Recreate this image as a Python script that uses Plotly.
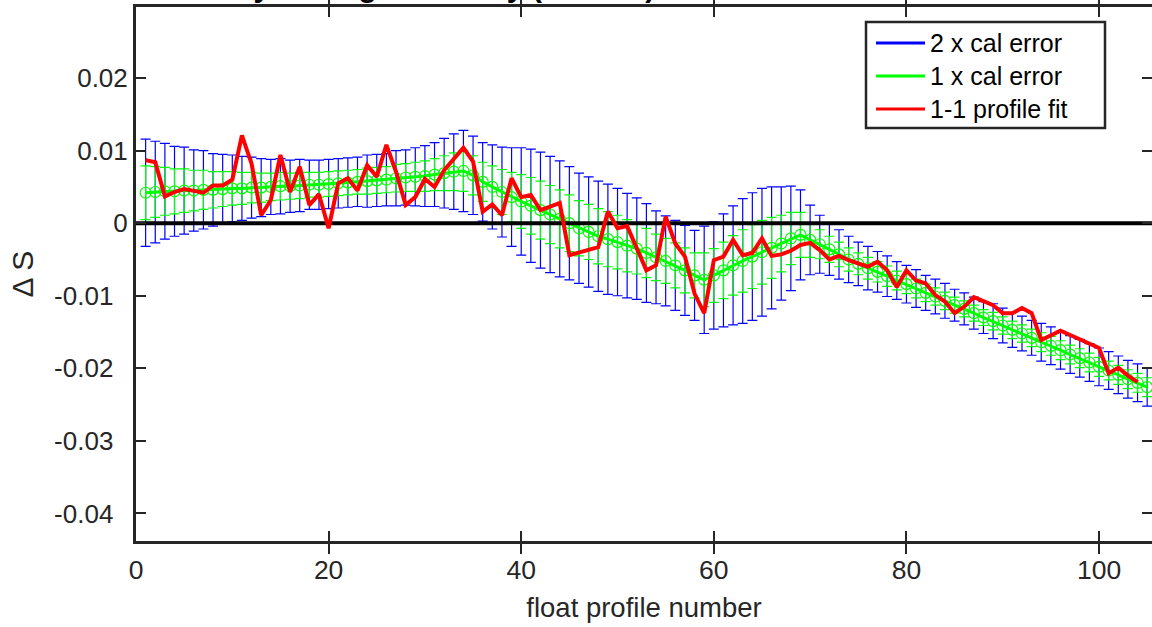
import plotly.graph_objects as go

# Float profile numbers
profile = list(range(1, 106))

# Vertically-averaged salinity offset (mapped fit) for each profile
offset = [
    0.0042, 0.0043, 0.0044, 0.0044, 0.0045, 0.0045, 0.0046, 0.0046, 0.0047, 0.0048,
    0.0048, 0.0049, 0.0049, 0.0050, 0.0051, 0.0051, 0.0052, 0.0053, 0.0053, 0.0054,
    0.0055, 0.0056, 0.0057, 0.0058, 0.0059, 0.0060, 0.0062, 0.0063, 0.0064, 0.0065,
    0.0067, 0.0069, 0.0071, 0.0072, 0.0066, 0.0057, 0.0050, 0.0043, 0.0036, 0.0030,
    0.0024, 0.0018, 0.0012, 0.0006, 0.0000, -0.0007, -0.0012, -0.0018, -0.0022, -0.0026,
    -0.0031, -0.0035, -0.0041, -0.0047, -0.0052, -0.0058, -0.0065, -0.0072, -0.0078, -0.0072,
    -0.0065, -0.0058, -0.0052, -0.0046, -0.0040, -0.0034, -0.0028, -0.0021, -0.0016, -0.0023,
    -0.0029, -0.0036, -0.0043, -0.0050, -0.0056, -0.0062, -0.0067, -0.0073, -0.0079, -0.0084,
    -0.0090, -0.0096, -0.0101, -0.0107, -0.0113, -0.0118, -0.0124, -0.0130, -0.0135, -0.0141,
    -0.0147, -0.0152, -0.0158, -0.0164, -0.0169, -0.0175, -0.0181, -0.0186, -0.0192, -0.0198,
    -0.0203, -0.0209, -0.0215, -0.0220, -0.0226,
]

# One-sigma calibration error of the offset
cal_err = [
    0.0037, 0.0035, 0.0033, 0.0031, 0.0030, 0.0028, 0.0027, 0.0025, 0.0024, 0.0023,
    0.0022, 0.0021, 0.0020, 0.0019, 0.0019, 0.0018, 0.0018, 0.0017, 0.0017, 0.0017,
    0.0017, 0.0017, 0.0017, 0.0018, 0.0018, 0.0018, 0.0019, 0.0019, 0.0020, 0.0021,
    0.0022, 0.0024, 0.0026, 0.0028, 0.0027, 0.0027, 0.0029, 0.0031, 0.0034, 0.0037,
    0.0039, 0.0040, 0.0040, 0.0040, 0.0039, 0.0038, 0.0038, 0.0038, 0.0038, 0.0037,
    0.0036, 0.0035, 0.0034, 0.0032, 0.0031, 0.0031, 0.0031, 0.0031, 0.0037, 0.0037,
    0.0039, 0.0041, 0.0043, 0.0044, 0.0044, 0.0042, 0.0039, 0.0036, 0.0031, 0.0024,
    0.0020, 0.0018, 0.0017, 0.0016, 0.0015, 0.0015, 0.0014, 0.0014, 0.0013, 0.0013,
    0.0013, 0.0012, 0.0012, 0.0012, 0.0011, 0.0011, 0.0011, 0.0011, 0.0012, 0.0012,
    0.0012, 0.0012, 0.0012, 0.0013, 0.0013, 0.0013, 0.0013, 0.0013, 0.0013, 0.0013,
    0.0013, 0.0013, 0.0013, 0.0013, 0.0013,
]

# Profile-by-profile (1-1) fit, profiles 1..104
fit_profile = list(range(1, 105))
fit_offset = [
    0.0087, 0.0084, 0.0037, 0.0043, 0.0047, 0.0045, 0.0042, 0.0052, 0.0052, 0.0060,
    0.0121, 0.0082, 0.0011, 0.0032, 0.0094, 0.0043, 0.0078, 0.0025, 0.0040, -0.0007,
    0.0055, 0.0062, 0.0045, 0.0080, 0.0064, 0.0108, 0.0071, 0.0025, 0.0036, 0.0061,
    0.0050, 0.0073, 0.0088, 0.0104, 0.0085, 0.0016, 0.0026, 0.0011, 0.0062, 0.0036,
    0.0039, 0.0018, 0.0023, 0.0028, -0.0044, -0.0040, -0.0037, -0.0033, 0.0016, -0.0007,
    -0.0004, -0.0035, -0.0065, -0.0058, 0.0009, -0.0028, -0.0046, -0.0097, -0.0124, -0.0051,
    -0.0046, -0.0023, -0.0044, -0.0041, -0.0021, -0.0045, -0.0043, -0.0038, -0.0030, -0.0027,
    -0.0037, -0.0050, -0.0045, -0.0051, -0.0055, -0.0060, -0.0053, -0.0065, -0.0088, -0.0065,
    -0.0079, -0.0083, -0.0099, -0.0108, -0.0124, -0.0115, -0.0102, -0.0108, -0.0113, -0.0124,
    -0.0124, -0.0117, -0.0124, -0.0161, -0.0155, -0.0148, -0.0154, -0.0160, -0.0166, -0.0172,
    -0.0207, -0.0199, -0.0210, -0.0219,
]

legend_names = ["2 x cal error", "1 x cal error", "1-1 profile fit"]
x_ticks = [0, 20, 40, 60, 80, 100]
y_ticks = [-0.04, -0.03, -0.02, -0.01, 0, 0.01, 0.02]
y_tick_text = ["-0.04", "-0.03", "-0.02", "-0.01", "0", "0.01", "0.02"]
x_range = [0, 105.5]
y_range = [-0.0438, 0.0298]

FONT = "Liberation Sans, Arial, sans-serif"
AX = "#262626"
BLUE, GREEN, RED = "#0000ff", "#00ff00", "#ff0000"
LEGEND_COLORS = [BLUE, GREEN, RED]

# figure geometry (pixels)
W, H = 1152, 627
ML, MR, MT, MB = 136, 0, 7, 86
PW, PH = W - ML - MR, H - MT - MB


def px(xp):
    return (xp - ML) / PW


def py(yp):
    return (H - MB - yp) / PH


# negative labels sit a little further from the axis than the others
NBSP = "\u00a0"
y_labels = [t + NBSP * 2 if t.startswith("-") else t for t in y_tick_text]

two_err = [2 * e for e in cal_err]

fig = go.Figure()

# 2 x calibration error bars
fig.add_trace(go.Scatter(
    x=profile, y=offset, mode="lines", name=legend_names[0],
    line=dict(color=BLUE, width=1),
    error_y=dict(type="data", array=two_err, color=BLUE, thickness=1.2, width=5),
    showlegend=False, hoverinfo="skip",
))

# 1 x calibration error bars with circle markers
fig.add_trace(go.Scatter(
    x=profile, y=offset, mode="lines+markers", name=legend_names[1],
    line=dict(color=GREEN, width=3),
    marker=dict(symbol="circle-open", size=11, color=GREEN, line=dict(width=1.2)),
    error_y=dict(type="data", array=cal_err, color=GREEN, thickness=1.2, width=5),
    showlegend=False, hoverinfo="skip",
))

# zero reference line and the profile fit, on the overlay axis so they sit on top
fig.add_trace(go.Scatter(
    x=x_range, y=[0, 0], mode="lines", yaxis="y2",
    line=dict(color="#000000", width=4),
    showlegend=False, hoverinfo="skip",
))
fig.add_trace(go.Scatter(
    x=fit_profile, y=fit_offset, mode="lines", yaxis="y2", name=legend_names[2],
    line=dict(color=RED, width=4),
    showlegend=False, hoverinfo="skip",
))

# boxed legend in the upper right corner
shapes = [dict(
    type="rect", xref="paper", yref="paper",
    x0=px(866), x1=px(1105), y0=py(128), y1=py(22),
    line=dict(color=AX, width=2.5), fillcolor="white", layer="above",
)]
annotations = []
row_y = [43, 76, 109]
for name, col, ry in zip(legend_names, LEGEND_COLORS, row_y):
    shapes.append(dict(
        type="line", xref="paper", yref="paper",
        x0=px(876), x1=px(925), y0=py(ry), y1=py(ry),
        line=dict(color=col, width=3), layer="above",
    ))
    annotations.append(dict(
        text=name, xref="paper", yref="paper", x=px(928), y=py(ry),
        xanchor="left", yanchor="middle", showarrow=False,
        font=dict(size=25, color="#000000", family=FONT),
    ))

# title line (sits above the axes, mostly beyond the top of the page)
annotations.append(dict(
    text="<b>vertically-averaged salinity (PSS-78) additive correction Δ S with errors</b>",
    xref="paper", yref="paper", x=px(138), y=py(5),
    xanchor="left", yanchor="bottom", showarrow=False,
    font=dict(size=30, color="#000000", family=FONT),
))

fig.update_layout(
    width=W, height=H, autosize=False,
    margin=dict(l=ML, r=MR, t=MT, b=MB, pad=0),
    paper_bgcolor="white", plot_bgcolor="white",
    font=dict(family=FONT, size=26, color=AX),
    showlegend=False,
    xaxis=dict(
        range=x_range, tickvals=x_ticks, ticks="inside", ticklen=10, tickwidth=2,
        tickcolor=AX, showline=True, linewidth=3, linecolor=AX, mirror="allticks",
        showgrid=False, zeroline=False, tickfont=dict(size=26.5, color=AX),
        ticklabelstandoff=3,
        title=dict(text="float profile number", font=dict(size=27.5, color=AX), standoff=14),
    ),
    yaxis=dict(
        range=y_range, tickvals=y_ticks, ticktext=y_labels, ticks="inside",
        ticklen=10, tickwidth=2, tickcolor=AX, showline=True, linewidth=3,
        linecolor=AX, showgrid=False, zeroline=False,
        tickfont=dict(size=26, color=AX),
        title=dict(text="Δ S", font=dict(size=30, color=AX), standoff=12),
    ),
    yaxis2=dict(
        matches="y", overlaying="y", side="right", tickvals=y_ticks,
        ticks="inside", ticklen=10, tickwidth=2, tickcolor=AX,
        showticklabels=False, showline=False, showgrid=False, zeroline=False,
    ),
    shapes=shapes,
    annotations=annotations,
)

fig.write_html("out.html")
